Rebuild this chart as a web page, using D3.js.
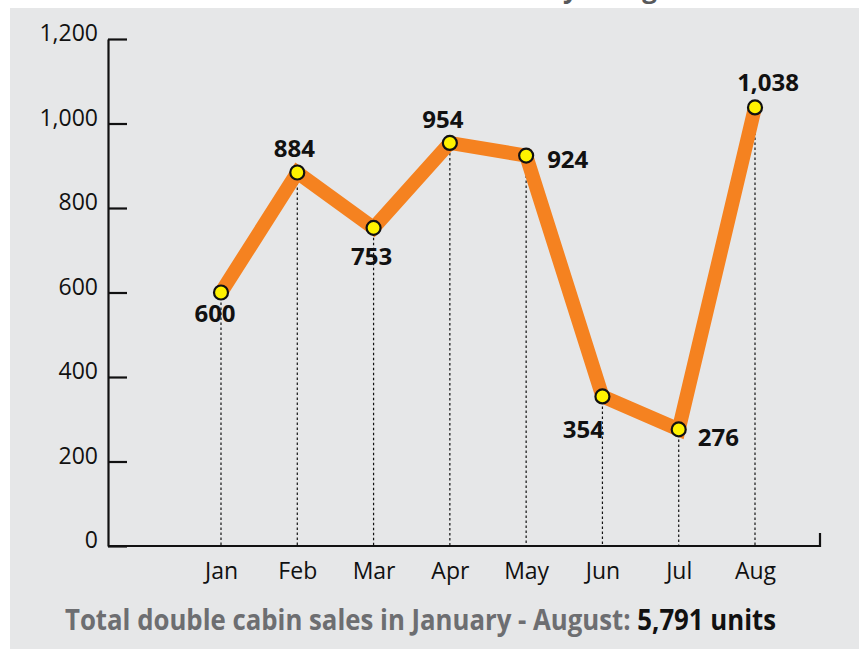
<!DOCTYPE html>
<html>
<head>
<meta charset="utf-8">
<script src="https://cdn.jsdelivr.net/npm/d3@7"></script>
<style>
  body { margin: 0; background: #fff; }
  text { font-family: "Open Sans", "Noto Sans", sans-serif; }
</style>
</head>
<body>
<div id="chart"></div>
<script>
// data
const months = ["Jan", "Feb", "Mar", "Apr", "May", "Jun", "Jul", "Aug"];
const sales = [600, 884, 753, 954, 924, 354, 276, 1038];
const yTicks = [0, 200, 400, 600, 800, 1000, 1200];
const totalSales = 5791;

// where each value label sits relative to its point
const labelOffsets = [
  { dx: -6, dy: 29, anchor: "middle" },
  { dx: -3, dy: -16, anchor: "middle" },
  { dx: -2, dy: 37, anchor: "middle" },
  { dx: -7, dy: -15, anchor: "middle" },
  { dx: 21, dy: 12, anchor: "start" },
  { dx: -19, dy: 42, anchor: "middle" },
  { dx: 19, dy: 17, anchor: "start" },
  { dx: 13, dy: -16, anchor: "middle" }
];

const width = 864;
const height = 649;
const plotLeft = 108, plotRight = 820, plotTop = 39, plotBottom = 546;

const svg = d3.select("#chart").append("svg")
  .attr("width", width)
  .attr("height", height);

// cut-off title at the very top
svg.append("text")
  .attr("x", 657)
  .attr("y", -2)
  .attr("text-anchor", "end")
  .style("font-size", "26px")
  .style("font-weight", 700)
  .style("fill", "#58595b")
  .text("Double cabin sales steady rising");

svg.append("rect")
  .attr("x", 10).attr("y", 8)
  .attr("width", 849).attr("height", 641)
  .style("fill", "#e6e7e8");

const x = d3.scalePoint().domain(months).range([221, 755]);
const y = d3.scaleLinear().domain([0, 1200]).range([plotBottom, plotTop]);

// y axis
const yAxis = d3.axisLeft(y)
  .tickValues(yTicks)
  .tickFormat(d3.format(","))
  .tickSize(-19)
  .tickSizeOuter(0)
  .tickPadding(10);

const gy = svg.append("g")
  .attr("transform", `translate(${plotLeft},0)`)
  .call(yAxis);
gy.select(".domain").style("stroke", "#111").style("stroke-width", 2.2);
gy.selectAll(".tick line").style("stroke", "#111").style("stroke-width", 2.2);
gy.selectAll("text")
  .attr("dy", "0.08em")
  .style("font-size", "23px")
  .style("fill", "#111")
  .style("font-family", "'Open Sans', sans-serif");

// x axis baseline with the small end tick
svg.append("path")
  .attr("d", `M${plotLeft},${plotBottom}H${plotRight}V${plotBottom - 13}`)
  .style("fill", "none")
  .style("stroke", "#111")
  .style("stroke-width", 2.2);

const xAxis = d3.axisBottom(x).tickSize(0).tickPadding(17);
const gx = svg.append("g")
  .attr("transform", `translate(0,${plotBottom})`)
  .call(xAxis);
gx.select(".domain").remove();
gx.selectAll("text")
  .style("font-size", "23px")
  .style("fill", "#111")
  .style("font-family", "'Open Sans', sans-serif");

const points = months.map((m, i) => ({ month: m, value: sales[i], off: labelOffsets[i] }));

// dotted drop lines
svg.append("g")
  .selectAll("line")
  .data(points).enter()
  .append("line")
    .attr("x1", (d) => x(d.month))
    .attr("x2", (d) => x(d.month))
    .attr("y1", (d) => y(d.value))
    .attr("y2", plotBottom)
    .style("stroke", "#111")
    .style("stroke-width", 1.2)
    .style("stroke-dasharray", "2.5,2.5");

// line
const line = d3.line()
  .x((d) => x(d.month))
  .y((d) => y(d.value));

svg.append("path")
  .datum(points)
  .attr("d", line)
  .style("fill", "none")
  .style("stroke", "#f58220")
  .style("stroke-width", 14)
  .style("stroke-linejoin", "miter");

// points
svg.append("g")
  .selectAll("circle")
  .data(points).enter()
  .append("circle")
    .attr("cx", (d) => x(d.month))
    .attr("cy", (d) => y(d.value))
    .attr("r", 7)
    .style("fill", "#fff200")
    .style("stroke", "#111")
    .style("stroke-width", 2.2);

// value labels
svg.append("g")
  .selectAll("text")
  .data(points).enter()
  .append("text")
    .attr("x", (d) => x(d.month) + d.off.dx)
    .attr("y", (d) => y(d.value) + d.off.dy)
    .attr("text-anchor", (d) => d.off.anchor)
    .style("font-size", "24px")
    .style("font-weight", 700)
    .style("fill", "#111")
    .text((d) => d3.format(",")(d.value));

// footer
const footer = svg.append("text")
  .attr("x", 65)
  .attr("y", 630)
  .attr("textLength", 711)
  .attr("lengthAdjust", "spacingAndGlyphs")
  .style("font-size", "29px")
  .style("font-weight", 700);

footer.append("tspan")
  .style("fill", "#6d6e71")
  .text("Total double cabin sales in January - August: ");

footer.append("tspan")
  .style("fill", "#111")
  .text(`${d3.format(",")(totalSales)} units`);
</script>
</body>
</html>
